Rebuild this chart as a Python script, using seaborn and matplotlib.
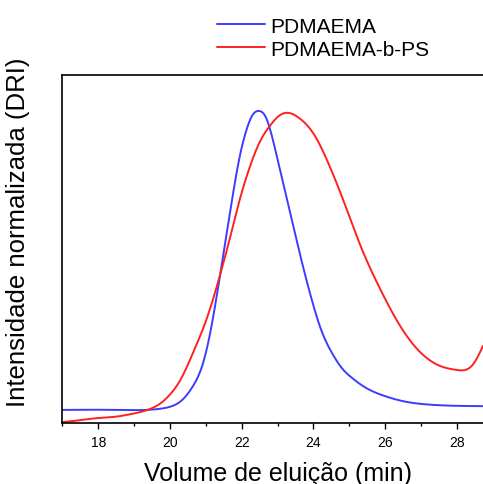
import numpy as np
import pandas as pd
import matplotlib
matplotlib.use("Agg")
import matplotlib.pyplot as plt
import seaborn as sns

# Elution volume (min) and normalised DRI signal for each sample
vol_pdmaema = [17.0, 18.5, 19.5, 19.75, 20.0, 20.28, 20.65, 20.93, 21.16, 21.35, 21.49,
               21.63, 21.77, 21.95, 22.14, 22.32, 22.48, 22.65, 22.84, 23.07, 23.26,
               23.49, 23.72, 23.95, 24.18, 24.55, 24.80, 25.02, 25.49, 25.95, 26.42,
               27.35, 28.0, 28.73]
int_pdmaema = [0.042, 0.042, 0.043, 0.046, 0.052, 0.068, 0.120, 0.195, 0.312, 0.440, 0.541,
               0.643, 0.743, 0.857, 0.942, 0.990, 1.000, 0.985, 0.921, 0.810, 0.720,
               0.607, 0.497, 0.397, 0.310, 0.218, 0.175, 0.150, 0.111, 0.088, 0.072,
               0.058, 0.055, 0.054]

vol_copol = [17.0, 17.35, 17.91, 18.47, 18.93, 19.40, 19.77, 20.05, 20.28, 20.65, 21.02,
             21.39, 21.67, 21.95, 22.23, 22.50, 22.79, 23.07, 23.30, 23.63, 24.00,
             24.37, 24.74, 25.02, 25.30, 25.86, 26.42, 26.97, 27.53, 28.0, 28.46, 28.73]
int_copol = [0.003, 0.007, 0.015, 0.020, 0.029, 0.043, 0.066, 0.098, 0.136, 0.227, 0.333,
             0.472, 0.592, 0.718, 0.822, 0.900, 0.953, 0.987, 0.994, 0.975, 0.928,
             0.845, 0.742, 0.657, 0.572, 0.430, 0.311, 0.228, 0.183, 0.170, 0.189, 0.247]

labels = ["PDMAEMA", "PDMAEMA-b-PS"]
colors = ["#3c3cff", "#ff2020"]

x_ticks = [18, 20, 22, 24, 26, 28]


def spline(xs, ys, n=800):
    """Natural cubic spline through the sampled points."""
    xs = np.asarray(xs, float)
    ys = np.asarray(ys, float)
    k = len(xs)
    h = np.diff(xs)
    A = np.zeros((k, k))
    r = np.zeros(k)
    A[0, 0] = A[-1, -1] = 1.0
    for i in range(1, k - 1):
        A[i, i - 1] = h[i - 1]
        A[i, i] = 2 * (h[i - 1] + h[i])
        A[i, i + 1] = h[i]
        r[i] = 6 * ((ys[i + 1] - ys[i]) / h[i] - (ys[i] - ys[i - 1]) / h[i - 1])
    M = np.linalg.solve(A, r)
    xf = np.linspace(xs[0], xs[-1], n)
    j = np.clip(np.searchsorted(xs, xf) - 1, 0, k - 2)
    a = xs[j + 1] - xf
    b = xf - xs[j]
    hj = h[j]
    yf = (M[j] * a**3 / (6 * hj) + M[j + 1] * b**3 / (6 * hj)
          + (ys[j] / hj - M[j] * hj / 6) * a + (ys[j + 1] / hj - M[j + 1] * hj / 6) * b)
    return xf, yf


frames = []
for lab, xs, ys in [(labels[0], vol_pdmaema, int_pdmaema), (labels[1], vol_copol, int_copol)]:
    xf, yf = spline(xs, ys)
    frames.append(pd.DataFrame({"vol": xf, "intensity": yf, "amostra": lab}))
df = pd.concat(frames, ignore_index=True)

sns.set_style("ticks")
plt.rcParams["font.family"] = ["Liberation Sans", "DejaVu Sans"]
plt.rcParams["text.color"] = "black"
plt.rcParams["axes.labelcolor"] = "black"

fig = plt.figure(figsize=(4.83, 4.85), dpi=100)
ax = fig.add_axes([62.45 / 483, 61 / 485, 12 * 35.85 / 483, 348 / 485])

sns.lineplot(data=df, x="vol", y="intensity", hue="amostra", hue_order=labels,
             palette=colors, linewidth=1.4, ax=ax, legend=False, estimator=None, sort=False)

ax.set_xlim(17, 29)
ax.set_ylim(0, 348 / 312)
ax.set_xticks(x_ticks)
ax.set_xticks(np.arange(17, 29.5, 1), minor=True)
ax.set_yticks([])
ax.tick_params(axis="x", which="major", direction="out", length=4, width=1,
               labelsize=10, pad=5, colors="black", labelcolor="black")
ax.tick_params(axis="x", which="minor", direction="out", length=2.5, width=1, colors="black")
for s in ax.spines.values():
    s.set_linewidth(1.2)
    s.set_color("black")

ax.set_xlabel("Volume de eluição (min)", fontsize=18, labelpad=8)
ax.set_ylabel("Intensidade normalizada (DRI)", fontsize=18.5)
ax.yaxis.set_label_coords(-0.075, 0.552)

handles = [plt.Line2D([], [], color=c, linewidth=1.4) for c in colors]
fig.legend(handles, labels, loc="upper left", bbox_to_anchor=(202 / 483, 1.0 - 3 / 485),
           frameon=False, fontsize=15, handlelength=2.3, handletextpad=0.3,
           labelspacing=0.2, borderaxespad=0.3)

fig.savefig("out.png", dpi=100)
